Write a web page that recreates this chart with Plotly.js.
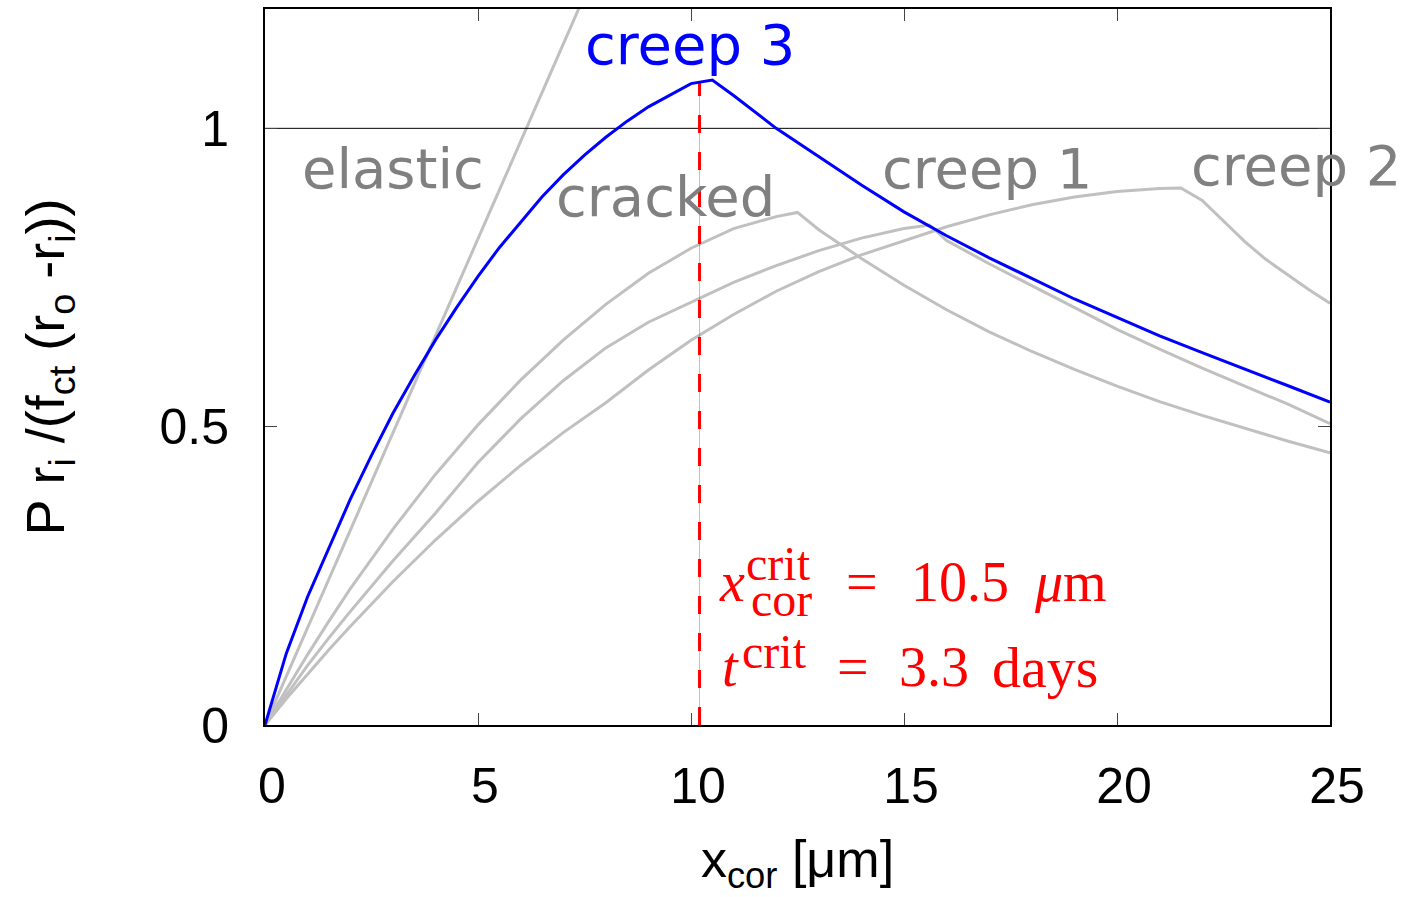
<!DOCTYPE html>
<html>
<head>
<meta charset="utf-8">
<script src="https://cdn.plot.ly/plotly-3.0.1.min.js"></script>
<style>html,body{margin:0;padding:0;background:#fff;}#chart{width:1405px;height:897px;}</style>
</head>
<body>
<div id="chart"></div>
<script>
// ---- data ----
const elasticX = [0, 2, 4, 6, 8];
const elasticY = [0, 0.326, 0.652, 0.978, 1.304];

const crackedX = [0, 0.5, 1, 1.5, 2, 3, 4, 5, 6, 7, 8, 9, 10, 11, 12, 12.5, 13, 14, 15, 16, 17, 18, 19, 20, 21, 22, 23, 24, 25];
const crackedY = [0, 0.06, 0.118, 0.174, 0.228, 0.328, 0.42, 0.503, 0.578, 0.645, 0.705, 0.757, 0.799, 0.832, 0.852, 0.859, 0.83, 0.782, 0.737, 0.696, 0.659, 0.626, 0.596, 0.568, 0.542, 0.519, 0.497, 0.476, 0.456];

const creep1X = [0, 0.5, 1, 1.5, 2, 3, 4, 5, 6, 7, 8, 9, 10, 11, 12, 13, 14, 15, 15.6, 16, 17, 18, 19, 20, 21, 22, 23, 24, 25];
const creep1Y = [0, 0.051, 0.1, 0.146, 0.19, 0.275, 0.355, 0.44, 0.513, 0.577, 0.632, 0.675, 0.708, 0.742, 0.77, 0.795, 0.816, 0.832, 0.838, 0.812, 0.773, 0.736, 0.7, 0.663, 0.63, 0.598, 0.568, 0.538, 0.505];

const creep2X = [0, 0.5, 1, 1.5, 2, 3, 4, 5, 6, 7, 8, 9, 10, 11, 12, 13, 14, 15, 16, 17, 18, 19, 20, 21, 21.5, 22, 22.5, 23, 23.5, 24, 24.5, 25];
const creep2Y = [0, 0.044, 0.085, 0.126, 0.165, 0.24, 0.31, 0.375, 0.435, 0.49, 0.54, 0.595, 0.645, 0.688, 0.727, 0.76, 0.788, 0.812, 0.835, 0.855, 0.872, 0.885, 0.894, 0.899, 0.9, 0.879, 0.845, 0.81, 0.78, 0.755, 0.73, 0.707];

const creep3X = [0, 0.5, 1, 1.5, 2, 2.5, 3, 3.5, 4, 4.5, 5, 5.5, 6, 6.5, 7, 7.5, 8, 8.5, 9, 9.5, 10, 10.5, 11, 12, 13, 14, 15, 16, 17, 18, 19, 20, 21, 22, 23, 24, 25];
const creep3Y = [0, 0.12, 0.215, 0.297, 0.378, 0.452, 0.522, 0.585, 0.645, 0.7, 0.752, 0.8, 0.843, 0.885, 0.922, 0.955, 0.985, 1.012, 1.036, 1.056, 1.075, 1.081, 1.055, 1.0, 0.953, 0.905, 0.86, 0.82, 0.783, 0.748, 0.714, 0.683, 0.652, 0.624, 0.597, 0.569, 0.541];

const critX = [10.2, 10.2];
const critY = [0, 1.077];
const refX = [0, 25];
const refY = [1, 1];

const xTicks = [0, 5, 10, 15, 20, 25];
const yTicks = [0, 0.5, 1];
const yTickText = ['0', '0.5', '1'];

const curveLabels = ['elastic', 'cracked', 'creep 1', 'creep 2', 'creep 3'];
const labelX = [3.0, 9.4, 16.95, 24.2, 9.98];
const labelY = [0.933, 0.886, 0.933, 0.937, 1.14];

const grey = '#c0c0c0';
const traces = [
  {x: elasticX, y: elasticY, mode: 'lines', line: {color: grey, width: 3}, hoverinfo: 'skip'},
  {x: crackedX, y: crackedY, mode: 'lines', line: {color: grey, width: 3}, hoverinfo: 'skip'},
  {x: creep1X, y: creep1Y, mode: 'lines', line: {color: grey, width: 3}, hoverinfo: 'skip'},
  {x: creep2X, y: creep2Y, mode: 'lines', line: {color: grey, width: 3}, hoverinfo: 'skip'},
  {x: refX, y: refY, mode: 'lines', line: {color: '#000', width: 1}, hoverinfo: 'skip'},
  {x: critX, y: critY, mode: 'lines', line: {color: 'rgba(255,0,0,0.35)', width: 1}, hoverinfo: 'skip'},
  {x: critX, y: critY, mode: 'lines', line: {color: '#ff0000', width: 3, dash: '18px,19px'}, hoverinfo: 'skip'},
  {x: creep3X, y: creep3Y, mode: 'lines', line: {color: '#0000ff', width: 3}, hoverinfo: 'skip'}
];

const labelColors = ['#808080', '#808080', '#808080', '#808080', '#0000ff'];
const annotations = curveLabels.map((t, i) => ({
  x: labelX[i], y: labelY[i], xref: 'x', yref: 'y', text: t, showarrow: false,
  xanchor: 'center', yanchor: 'middle',
  font: {family: 'DejaVu Sans', size: 56, color: labelColors[i]}
}));

// crit annotation (LaTeX-like, built from pieces)
const serif = 'Liberation Serif';
const red = '#ff0000';
function px2x(p) { return (p - 265) / 42.6; }
function px2y(p) { return (725 - p) / 597; }
const pieces = [
  {t: '<i>x</i>', px: 717, py: 582, s: 56},
  {t: 'crit', px: 744, py: 563, s: 48},
  {t: 'cor', px: 749, py: 599, s: 48},
  {t: '=', px: 844, py: 582, s: 56},
  {t: '10.5', px: 909, py: 582, s: 56},
  {t: '<i>μ</i>m', px: 1032, py: 582, s: 56},
  {t: '<i>t</i>', px: 720, py: 667, s: 56},
  {t: 'crit', px: 740, py: 651, s: 48},
  {t: '=', px: 835, py: 667, s: 56},
  {t: '3.3', px: 897, py: 667, s: 56},
  {t: 'days', px: 990, py: 667, s: 58}
];
pieces.forEach(p => annotations.push({
  x: px2x(p.px), y: px2y(p.py), xref: 'x', yref: 'y', text: p.t, showarrow: false,
  xanchor: 'left', yanchor: 'middle', font: {family: serif, size: p.s, color: red}
}));

const axisFont = {family: 'Liberation Sans, Arial, sans-serif', size: 50, color: '#000'};
const titleFont = {family: 'Liberation Sans, Arial, sans-serif', size: 52, color: '#000'};
const yTitleFont = {family: 'Liberation Sans, Arial, sans-serif', size: 54, color: '#000'};
const layout = {
  width: 1405, height: 897,
  margin: {l: 265, r: 75, t: 9, b: 172},
  paper_bgcolor: '#fff', plot_bgcolor: '#fff',
  showlegend: false,
  xaxis: {
    range: [0, 25], tickvals: xTicks, ticktext: xTicks.map(v => '&nbsp;' + v),
    ticks: 'inside', ticklen: 12, tickwidth: 1, tickcolor: '#444',
    showline: true, linecolor: '#000', linewidth: 2, mirror: 'ticks',
    showgrid: false, zeroline: false, tickfont: axisFont, ticklabelstandoff: 16,
    title: {text: 'x<sub>cor</sub>&nbsp;[μm]', font: titleFont, standoff: 28}
  },
  yaxis: {
    range: [0, 1.2], tickvals: yTicks, ticktext: yTickText,
    ticks: 'inside', ticklen: 12, tickwidth: 1, tickcolor: '#444',
    showline: true, linecolor: '#000', linewidth: 2, mirror: 'ticks',
    showgrid: false, zeroline: false, tickfont: axisFont, ticklabelstandoff: 24,
    title: {text: 'P&nbsp;r<sub>i</sub>&nbsp;/(f<sub>ct</sub>&nbsp;(r<sub>o</sub>&nbsp;-r<sub>i</sub>))', font: yTitleFont, standoff: 78}
  },
  annotations: annotations
};
Plotly.newPlot('chart', traces, layout, {displayModeBar: false, staticPlot: true});
</script>
</body>
</html>
